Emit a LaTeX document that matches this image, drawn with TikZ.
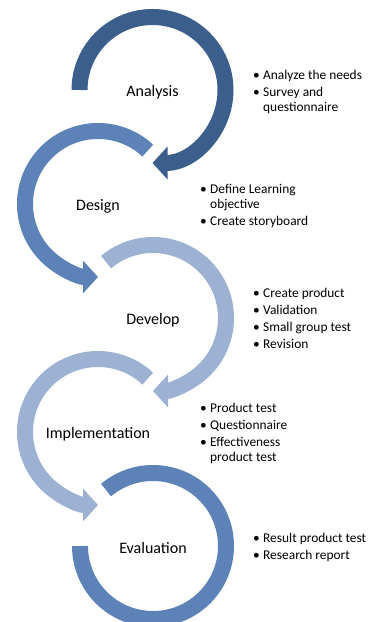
\documentclass[tikz,border=0pt]{standalone}
\usepackage{fontspec}
\setmainfont{Carlito}
\usetikzlibrary{arrows.meta}
\definecolor{darkring}{RGB}{59,94,140}
\definecolor{midring}{RGB}{93,130,184}
\definecolor{lightring}{RGB}{157,177,211}
\newcommand{\bulletlist}[1]{\begin{tabular}{@{}p{10pt}@{}l@{}}#1\end{tabular}}

\begin{document}
\begin{tikzpicture}[x=1pt,y=1pt,
		ring/.style={line width=16pt},
		ringtip/.style={ring,-{Triangle[width=32pt,length=15pt]}},
		title/.style={yshift=-2.5pt,font=\fontsize{16}{19}\selectfont},
		items/.style={anchor=west,yshift=-2.5pt,inner sep=0pt,font=\fontsize{13.4}{15}\selectfont}]
		\useasboundingbox (0,0) rectangle (368,622);
		\clip (0,0) rectangle (368,622);
		\coordinate (c1) at (152.5,532);
		\coordinate (c2) at (98,418);
		\coordinate (c3) at (153,304);
		\coordinate (c4) at (98,190);
		\coordinate (c5) at (153,76);
		\draw[ringtip,darkring] (c1) ++(180:73) arc[start angle=180,end angle=-90,radius=73];
		\draw[ringtip,midring] (c2) ++(47:73) arc[start angle=47,end angle=270,radius=73];
		\draw[ringtip,lightring] (c3) ++(130:73) arc[start angle=130,end angle=-90,radius=73];
		\draw[ringtip,lightring] (c4) ++(47:73) arc[start angle=47,end angle=270,radius=73];
		\draw[ring,midring] (c5) ++(130:73) arc[start angle=130,end angle=-180,radius=73];
		\node[title] (analysis) at (c1) {Analysis};
		\node[title] (design) at (c2) {Design};
		\node[title] (develop) at (c3) {Develop};
		\node[title] (implementation) at (c4) {Implementation};
		\node[title] (evaluation) at (c5) {Evaluation};
		\node[items] (analysisList) at (253,532) {\bulletlist{
			\textbullet & Analyze the needs\\[2pt]
			\textbullet & Survey and\\
			& questionnaire}};
		\node[items] (designList) at (200,418) {\bulletlist{
			\textbullet & Define Learning\\
			& objective\\[2pt]
			\textbullet & Create storyboard}};
		\node[items] (developList) at (253,304) {\bulletlist{
			\textbullet & Create product\\[2pt]
			\textbullet & Validation\\[2pt]
			\textbullet & Small group test\\[2pt]
			\textbullet & Revision}};
		\node[items] (implementationList) at (200,190) {\bulletlist{
			\textbullet & Product test\\[2pt]
			\textbullet & Questionnaire\\[2pt]
			\textbullet & Effectiveness\\
			& product test}};
		\node[items] (evaluationList) at (253,76) {\bulletlist{
			\textbullet & Result product test\\[2pt]
			\textbullet & Research report}};
	\end{tikzpicture}
\end{document}
